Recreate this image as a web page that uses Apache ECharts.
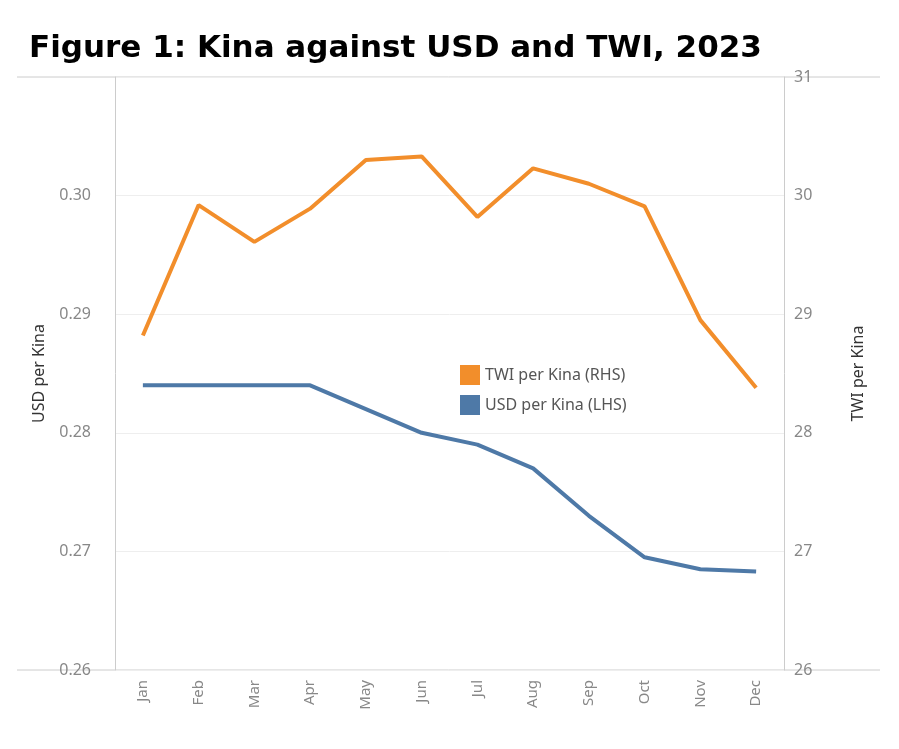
<!DOCTYPE html><html><head><meta charset="utf-8"><script src="https://cdn.jsdelivr.net/npm/echarts@6/dist/echarts.min.js"></script>
<style>body{margin:0}#c{width:899px;height:749px}</style></head><body><div id="c"></div><script>
const months=['Jan','Feb','Mar','Apr','May','Jun','Jul','Aug','Sep','Oct','Nov','Dec'];
const usd=[0.2840,0.2840,0.2840,0.2840,0.2820,0.2800,0.2790,0.2770,0.2730,0.2695,0.2685,0.2683];
const twi=[28.82,29.92,29.61,29.89,30.30,30.33,29.82,30.23,30.10,29.91,28.95,28.38];
const ch=echarts.init(document.getElementById('c'));
const lbl={color:'#888',fontSize:16,fontFamily:'Noto Sans'};
ch.setOption({
 title:{text:'Figure 1: Kina against USD and TWI, 2023',left:24,top:28,textStyle:{fontSize:31,fontWeight:'bold',color:'#000',fontFamily:'DejaVu Sans'}},
 grid:{left:115,right:115,top:77,bottom:79},
 legend:{left:455,top:360,orient:'vertical',itemWidth:20,itemHeight:20,itemGap:10,icon:'rect',textStyle:{fontSize:16,color:'#555',fontFamily:'Noto Sans'},
   data:['TWI per Kina (RHS)','USD per Kina (LHS)']},
 graphic:[{type:'line',shape:{x1:17,y1:77,x2:880,y2:77},style:{stroke:'#ccc',lineWidth:1}},
          {type:'line',shape:{x1:17,y1:670,x2:880,y2:670},style:{stroke:'#ccc',lineWidth:1}}],
 xAxis:{type:'category',data:months,boundaryGap:true,axisLine:{show:false},axisTick:{show:false},
   splitLine:{show:false},axisLabel:{...lbl,fontSize:15,rotate:90,margin:10}},
 yAxis:[{type:'value',min:0.26,max:0.31,interval:0.01,name:'USD per Kina',nameLocation:'middle',nameGap:68,
   nameTextStyle:{fontSize:16,color:'#333',fontFamily:'Noto Sans'},
   axisLine:{show:true,lineStyle:{color:'#ccc'}},axisTick:{show:false},
   axisLabel:{...lbl,margin:24,showMaxLabel:false,formatter:v=>v.toFixed(2)},splitLine:{lineStyle:{color:'#eee'}}},
  {type:'value',min:26,max:31,interval:1,name:'TWI per Kina',nameLocation:'middle',nameGap:66,nameRotate:90,
   nameTextStyle:{fontSize:16,color:'#333',fontFamily:'Noto Sans'},
   axisLine:{show:true,lineStyle:{color:'#ccc'}},axisTick:{show:false},
   axisLabel:{...lbl,margin:10},splitLine:{show:false}}],
 series:[{name:'TWI per Kina (RHS)',type:'line',yAxisIndex:1,data:twi,symbol:'none',lineStyle:{width:4,color:'#f28e2b'},itemStyle:{color:'#f28e2b'}},
  {name:'USD per Kina (LHS)',type:'line',yAxisIndex:0,data:usd,symbol:'none',lineStyle:{width:4,color:'#4e79a7'},itemStyle:{color:'#4e79a7'}}]
});
</script></body></html>
